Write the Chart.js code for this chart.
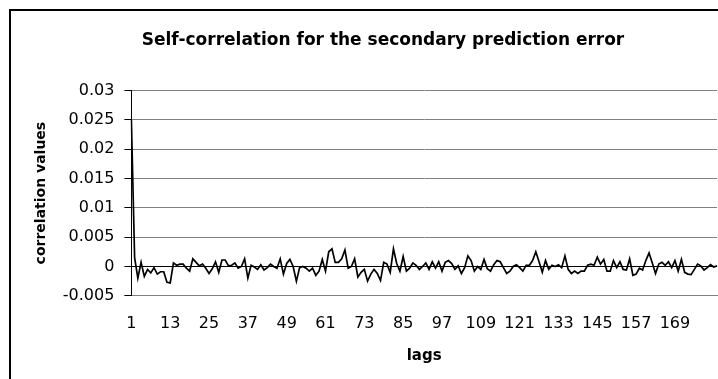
<!DOCTYPE html>
<html>
<head>
<meta charset="utf-8">
<script src="https://cdn.jsdelivr.net/npm/chart.js@4/dist/chart.umd.min.js"></script>
<style>
    html, body { margin: 0; padding: 0; background: #fff; overflow: hidden; width: 718px; height: 379px; }
    #box { position: absolute; left: 9px; top: 9px; border: 2px solid #000; width: 744px; height: 380px; }
</style>
</head>
<body>
<div id="box"><canvas id="acf-chart" width="744" height="380"></canvas></div>
<script>
    var chartTitle = 'Self-correlation for the secondary prediction error';
    var xTitle = 'lags';
    var yTitle = 'correlation values';

    // self-correlation, lags 1..182
    var correlation = [
        0.025, 0.0015, -0.002, 0.0007, -0.0017, -0.0005, -0.0011, -0.0002, -0.0013, -0.0009,
        -0.0009, -0.0027, -0.0028, 0.0006, 0.0002, 0.0004, 0.0004, -0.0003, -0.0008, 0.0013,
        0.0007, 0.0001, 0.0004, -0.0003, -0.0012, -0.0004, 0.0008, -0.001, 0.0011, 0.0011,
        0.0001, 0.0002, 0.0006, -0.0003, 0.0, 0.0013, -0.002, 0.0002, -0.0001, -0.0005,
        0.0003, -0.0006, -0.0002, 0.0004, 0.0, -0.0003, 0.0013, -0.0013, 0.0005, 0.0012,
        0.0, -0.0025, -0.0002, 0.0, -0.0003, -0.0008, -0.0003, -0.0015, -0.0008, 0.0012,
        -0.0008, 0.0025, 0.003, 0.0007, 0.0007, 0.0013, 0.0028, -0.0003, 0.0, 0.0013,
        -0.0018, -0.001, -0.0005, -0.0025, -0.0013, -0.0005, -0.0012, -0.0024, 0.0007, 0.0004,
        -0.001, 0.003, 0.0005, -0.0008, 0.0017, -0.0008, -0.0003, 0.0006, 0.0002, -0.0005,
        0.0, 0.0006, -0.0005, 0.0008, -0.0003, 0.0008, -0.0008, 0.0007, 0.001, 0.0005,
        -0.0005, 0.0001, -0.0012, -0.0002, 0.0018, 0.001, -0.0008, 0.0, -0.0005, 0.0012,
        -0.0004, -0.0008, 0.0003, 0.001, 0.0008, -0.0002, -0.0012, -0.0008, 0.0, 0.0003,
        -0.0002, -0.0008, 0.0002, 0.0002, 0.001, 0.0025, 0.0008, -0.001, 0.001, -0.0005,
        0.0002, 0.0, 0.0003, -0.0002, 0.0018, -0.0005, -0.0012, -0.0008, -0.0012, -0.0008,
        -0.0008, 0.0002, 0.0004, 0.0002, 0.0016, 0.0004, 0.0012, -0.0008, -0.0008, 0.001,
        -0.0002, 0.0008, -0.0005, -0.0006, 0.0013, -0.0015, -0.0013, -0.0003, -0.0006, 0.001,
        0.0023, 0.0006, -0.0012, 0.0004, 0.0007, 0.0002, 0.0008, -0.0002, 0.001, -0.0008,
        0.0012, -0.001, -0.0013, -0.0014, -0.0005, 0.0004, 0.0001, -0.0006, -0.0002, 0.0003,
        -0.0001, 0.0001
    ];

    var lags = [];
    for (var i = 1; i <= correlation.length; i++) {
        lags.push(String(i));
    }

    var fontFamily = "'DejaVu Sans', sans-serif";

    // the original chart is wider than the picture, so its title sits right of the canvas centre
    var widenTitle = {
        id: 'widenTitle',
        afterLayout: function (chart) {
            if (chart.titleBlock) {
                chart.titleBlock.right += 36;
            }
        }
    };

    var ctx = document.getElementById('acf-chart').getContext('2d');

    var acfChart = new Chart(ctx, {
        type: 'line',
        data: {
            labels: lags,
            datasets: [
                {
                    label: 'correlation',
                    data: correlation,
                    borderColor: '#000',
                    borderWidth: 1.7,
                    pointRadius: 0,
                    tension: 0,
                    fill: false
                }
            ]
        },
        options: {
            responsive: false,
            animation: false,
            layout: {
                padding: { left: 2, right: 38, top: 0, bottom: 26 }
            },
            scales: {
                x: {
                    offset: false,
                    grid: {
                        display: false,
                        drawTicks: false
                    },
                    border: {
                        display: true,
                        color: '#808080',
                        width: 1
                    },
                    ticks: {
                        autoSkip: false,
                        maxRotation: 0,
                        padding: 18,
                        color: '#000',
                        font: { family: fontFamily, size: 16 },
                        callback: function (value, index) {
                            return (index % 12 === 0 && index <= 168) ? lags[index] : '';
                        }
                    },
                    title: {
                        display: true,
                        text: xTitle,
                        color: '#000',
                        font: { family: fontFamily, size: 15, weight: 'bold' },
                        padding: { top: -4, bottom: 0 }
                    }
                },
                y: {
                    min: -0.005,
                    max: 0.03,
                    ticks: {
                        stepSize: 0.005,
                        padding: 10,
                        color: '#000',
                        font: { family: fontFamily, size: 16 },
                        callback: function (value) {
                            return String(+value.toFixed(3));
                        }
                    },
                    grid: {
                        color: function (c) {
                            return Math.abs(c.tick.value) < 1e-9 ? '#000' : '#808080';
                        },
                        lineWidth: 1,
                        tickColor: '#000',
                        tickLength: 7
                    },
                    border: {
                        display: true,
                        color: '#000',
                        width: 1
                    },
                    title: {
                        display: true,
                        text: yTitle,
                        color: '#000',
                        font: { family: fontFamily, size: 14, weight: 'bold' },
                        padding: { top: 20, bottom: 3 }
                    }
                }
            },
            plugins: {
                legend: { display: false },
                tooltip: { enabled: false },
                title: {
                    display: true,
                    text: chartTitle,
                    color: '#000',
                    font: { family: fontFamily, size: 17, weight: 'bold' },
                    padding: { top: 19, bottom: 40 }
                }
            }
        },
        plugins: [widenTitle]
    });
</script>
</body>
</html>
